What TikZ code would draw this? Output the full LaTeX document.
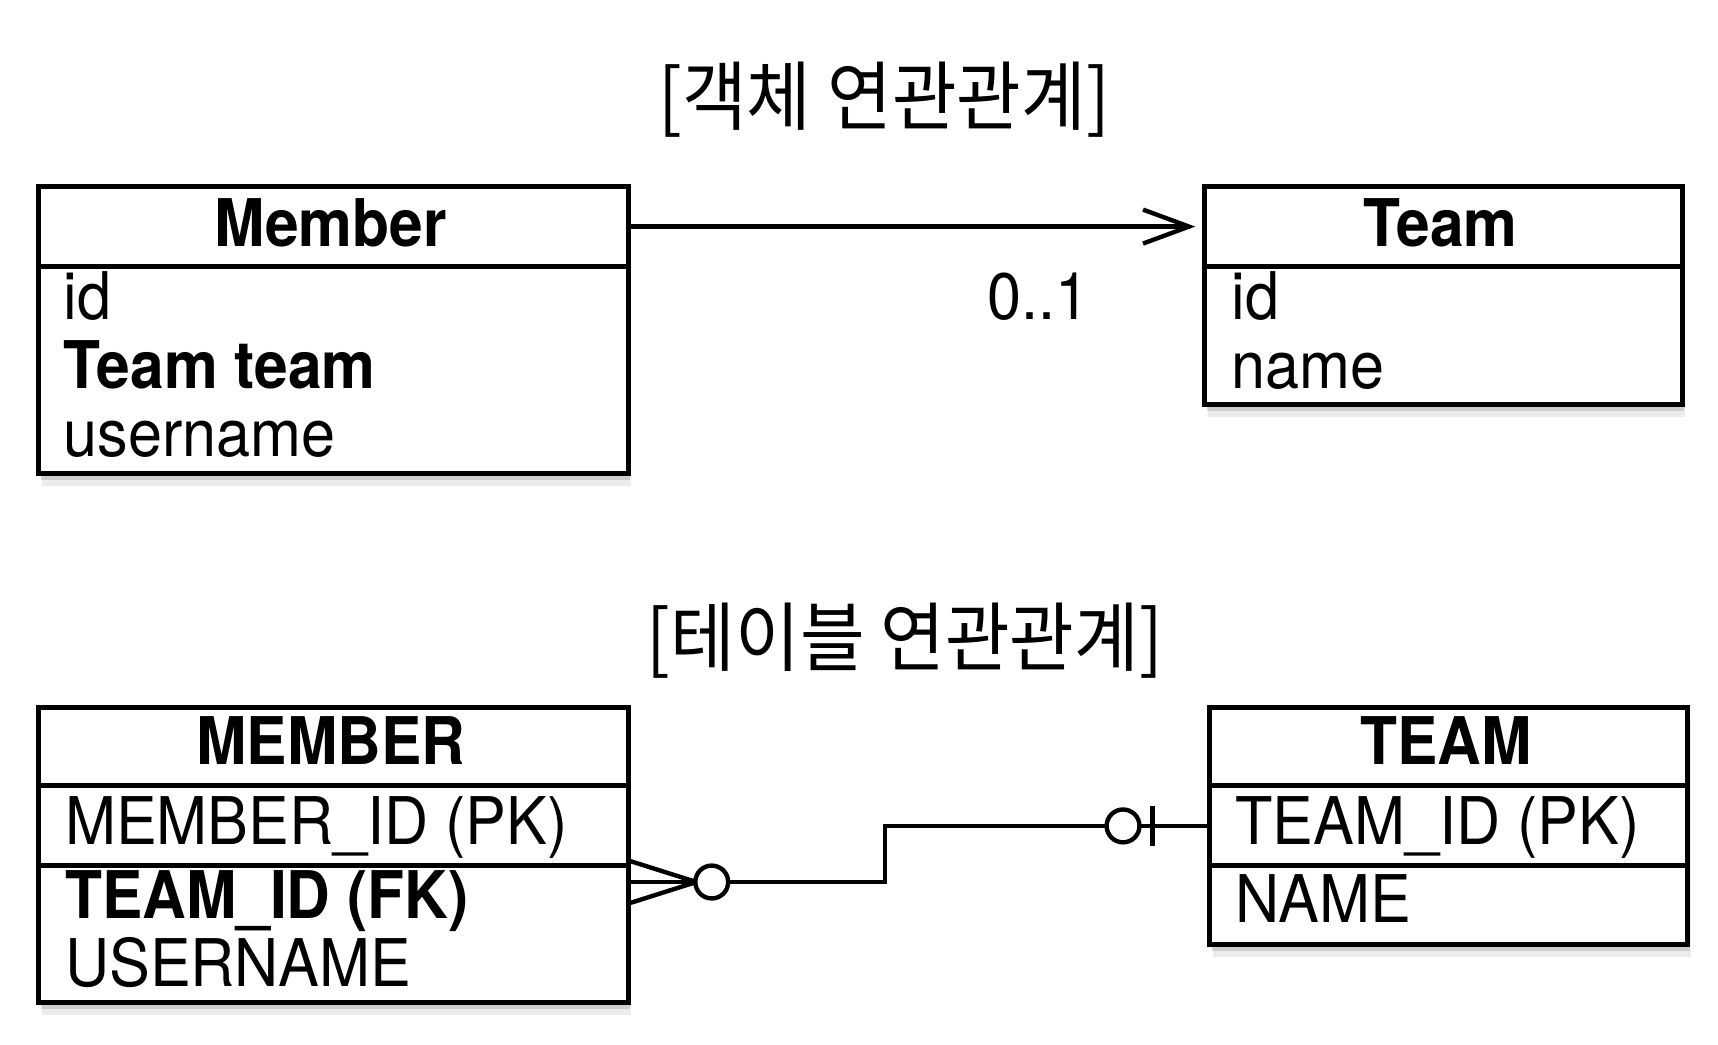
\documentclass[tikz,border=0pt]{standalone}
\usepackage{fontspec}
\setmainfont{TeX Gyre Heros}[FakeStretch=0.93, BoldFeatures={FakeStretch=0.92}]
\newfontfamily\kofont{Noto Sans CJK KR}[FakeStretch=0.93]
\usetikzlibrary{arrows.meta,shadows}
\begin{document}
\begin{tikzpicture}[x=0.5pt, y=-0.5pt,
  table part/.style 2 args={rectangle, draw, line width=2.3pt, fill=white, anchor=north west, inner sep=0pt, minimum width=#1, minimum height=#2,
    drop shadow={shadow xshift=1.5pt, shadow yshift=-5.5pt, opacity=0.15},
    drop shadow={shadow xshift=1pt, shadow yshift=-3pt, opacity=0.28}},
  head text/.style={anchor=base, inner sep=0pt, font=\fontsize{30}{36}\selectfont\bfseries},
  field/.style={anchor=base west, inner sep=0pt, font=\fontsize{30}{36}\selectfont},
  caption text/.style={inner sep=0pt, font=\kofont\fontsize{34.5}{40}\selectfont},
  assoc/.style={line width=2pt, -{Straight Barb[length=21pt, width=15.5pt]}, shorten >=3pt},
  rel/.style={line width=2pt},
  ring/.style={circle, draw, line width=2pt, fill=white, minimum size=15pt, inner sep=0pt}]
\useasboundingbox (0,0) rectangle (1568,953);
% object association
\node[caption text] (objtitle) at (807,91) {[객체 연관관계]};
\node[table part={269pt}{36.5pt}] (memberhead) at (33,168) {};
\node[table part={269pt}{94.5pt}] (memberbody) at (33,241) {};
\node[head text] (membername) at (302,225) {Member};
\node[field] (memberid) at (58,292) {id};
\node[field, font=\fontsize{30}{36}\selectfont\bfseries] (memberteam) at (58,355) {Team team};
\node[field] (memberuser) at (58,417) {username};
\node[table part={218pt}{36.5pt}] (teamhead) at (1097,168) {};
\node[table part={218pt}{63pt}] (teambody) at (1097,241) {};
\node[head text] (teamname) at (1315,225) {Team};
\node[field] (teamid) at (1124,292) {id};
\node[field] (teamfield) at (1124,355) {name};
\draw[assoc] (memberhead.east) -- (teamhead.west);
\node[field, anchor=base] (mult) at (948,292) {0..1};
% table association
\node[caption text] (tabletitle) at (826,585) {[테이블 연관관계]};
\node[table part={269pt}{36pt}] (mtablehead) at (33,643) {};
\node[table part={269pt}{36.5pt}] (mtablepk) at (33,715) {};
\node[table part={269pt}{62.5pt}] (mtablerest) at (33,788) {};
\node[head text] (mtablename) at (302,698) {MEMBER};
\node[field] (mtableid) at (59,771) {MEMBER\_ID (PK)};
\node[field, font=\fontsize{30}{36}\selectfont\bfseries] (mtablefk) at (59,838) {TEAM\_ID (FK)};
\node[field] (mtableuser) at (59,900) {USERNAME};
\node[table part={218pt}{36pt}] (ttablehead) at (1102,643) {};
\node[table part={218pt}{36.5pt}] (ttablepk) at (1102,715) {};
\node[table part={218pt}{36pt}] (ttablerest) at (1102,788) {};
\node[head text] (ttablename) at (1320,698) {TEAM};
\node[field] (ttableid) at (1127,771) {TEAM\_ID (PK)};
\node[field] (ttablefield) at (1127,842) {NAME};
\coordinate (fk) at ([yshift=-8.5pt]mtablerest.north east);
\draw[rel] (fk) -- ++(232,0) |- (ttablepk.west);
\draw[rel] ([yshift=9.5pt]fk) -- ([xshift=30pt]fk) -- ([yshift=-9.5pt]fk);
\node[ring] (manyring) at ([xshift=37pt]fk) {};
\node[ring] (onering) at ([xshift=-38.5pt]ttablepk.west) {};
\draw[rel] ([xshift=-25pt,yshift=9pt]ttablepk.west) -- ([xshift=-25pt,yshift=-9pt]ttablepk.west);
\end{tikzpicture}
\end{document}
